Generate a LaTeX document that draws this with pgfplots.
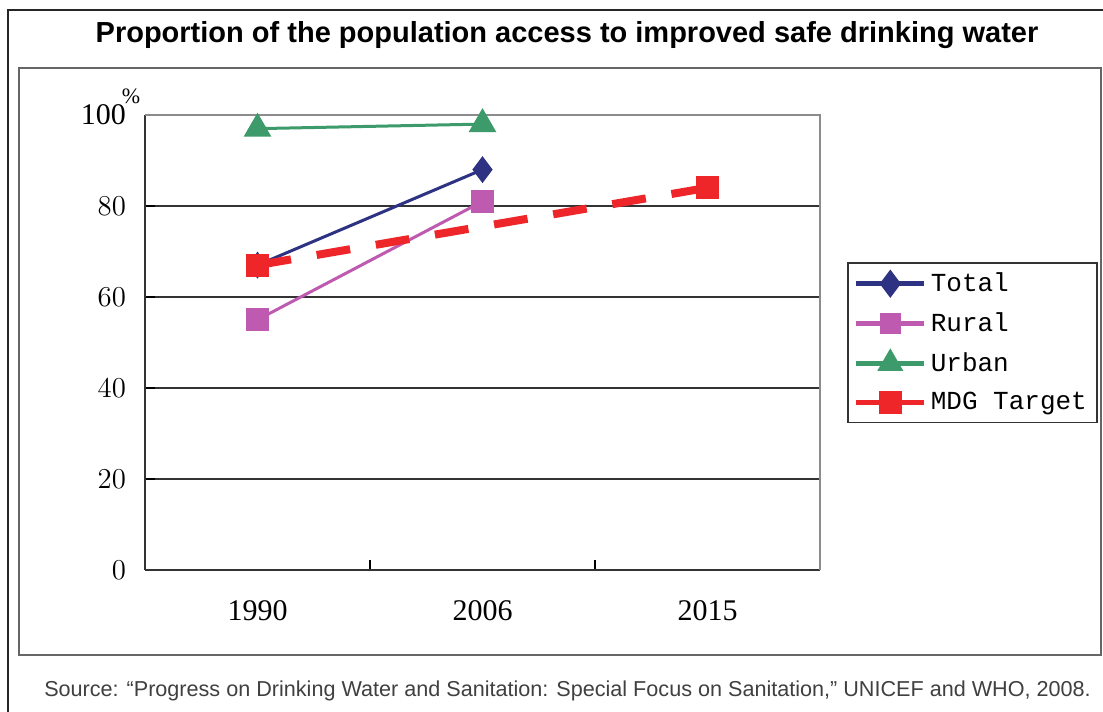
\documentclass[border=0pt]{standalone}
\usepackage{pgfplots}
\pgfplotsset{compat=1.18}
\usepackage{fontspec}
\setmainfont{Liberation Sans}
\newfontfamily\serifnum{Liberation Serif}
\newfontfamily\monof{Liberation Mono}
\definecolor{cTotal}{HTML}{2E3283}
\definecolor{cRural}{HTML}{BE5AAF}
\definecolor{cUrban}{HTML}{3C9A6B}
\definecolor{cMDG}{HTML}{EE2529}
\begin{document}
\begin{tikzpicture}[x=1pt,y=1pt]
\useasboundingbox (0,0) rectangle (551.5,356);
\fill[white] (0,0) rectangle (551.5,356);
\draw[line width=1pt,black!85] (4,-2) -- (4,351) -- (553,351);
\draw[line width=1pt,black!60] (9.5,28.5) rectangle (550.5,322);
\node[font=\bfseries\fontsize{14.5}{16}\selectfont] at (283.5,338.5) {Proportion of the population access to improved safe drinking water};
\node[font=\fontsize{10.8}{12}\selectfont, text=black!75] at (283.75,10.5) {Source: “Progress on Drinking Water and Sanitation: Special Focus on Sanitation,” UNICEF and WHO, 2008.};
\node[font=\serifnum\fontsize{11}{13}\selectfont] at (65.5,308) {\%};
\begin{axis}[
  at={(72.5pt,71pt)}, anchor=south west, scale only axis,
  width=337.5pt, height=227.5pt,
  xmin=-0.5, xmax=2.5, ymin=0, ymax=100,
  axis x line*=bottom, axis y line*=left,
  axis line style={black!80, line width=0.8pt},
  xtick={0.5,1.5}, xticklabels={},
  extra x ticks={0,1,2}, extra x tick labels={1990,2006,2015},
  extra x tick style={major tick length=0pt},
  ytick={0,20,40,60,80}, ymajorgrids,
  extra y ticks={100}, extra y tick labels={100},
  extra y tick style={grid=none},
  grid style={black!80, line width=0.6pt},
  tick align=inside, major tick length=5pt,
  tick style={black, line width=0.8pt},
  ticklabel style={font=\serifnum\fontsize{15}{17}\selectfont},
  yticklabel style={xshift=-6pt},
  xticklabel style={yshift=-11.5pt},
  legend style={at={(1.04,0.677)}, anchor=north west, draw=black!80, line width=0.8pt,
    font=\monof\fontsize{13}{15}\selectfont, cells={anchor=west}, row sep=5pt, inner sep=3pt},
  legend image code/.code={\draw[mark repeat=2,mark phase=2] plot coordinates {(0pt,0pt) (17pt,0pt) (34pt,0pt)};},
  clip=false,
]
\draw[black!45, line width=0.8pt] (rel axis cs:0,1) -- (rel axis cs:1,1) -- (rel axis cs:1,0);
\addplot[cTotal, line width=1.5pt, mark=diamond*, mark size=5.5pt, forget plot] coordinates {(0,67) (1,88)};
\addplot[cRural, line width=1.5pt, mark=square*, mark size=5pt, forget plot] coordinates {(0,55) (1,81)};
\addplot[cUrban, line width=1.5pt, mark=triangle*, mark size=6.5pt, forget plot] coordinates {(0,97) (1,98)};
\addplot[cMDG, line width=4pt, dash pattern=on 17pt off 13pt, mark=square*, mark size=5.5pt, mark options={solid, line width=0.5pt}, forget plot] coordinates {(0,67) (2,84)};
\addlegendimage{cTotal, line width=2.5pt, mark=diamond*, mark size=5pt}
\addlegendentry{Total}
\addlegendimage{cRural, line width=2.2pt, mark=square*, mark size=4pt}
\addlegendentry{Rural}
\addlegendimage{cUrban, line width=2.5pt, mark=triangle*, mark size=5pt}
\addlegendentry{Urban}
\addlegendimage{cMDG, line width=2.5pt, mark=square*, mark size=4.5pt}
\addlegendentry{MDG Target}
\end{axis}
\end{tikzpicture}
\end{document}
